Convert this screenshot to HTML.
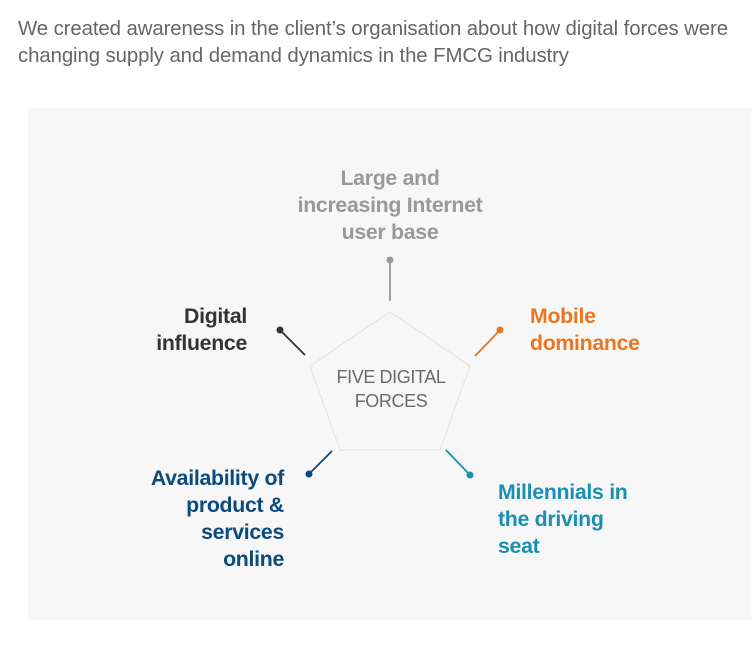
<!DOCTYPE html>
<html><head><style>
body{margin:0;width:751px;height:650px;background:#fff;position:relative;overflow:hidden;font-family:"Liberation Sans",Arial,sans-serif}
.h{position:absolute;left:18px;top:16px;font-size:20.4px;line-height:27px;color:#666;font-weight:300;white-space:nowrap;letter-spacing:-0.1px}
.p{position:absolute;left:28px;top:108px;width:723px;height:512px;background:#f7f7f7}
.t{position:absolute;font-weight:bold;font-size:21.3px;line-height:27px;letter-spacing:-0.3px;white-space:nowrap}
</style></head><body>
<div class="h">We created awareness in the client’s organisation about how digital forces were<br>changing supply and demand dynamics in the FMCG industry</div>
<div class="p"></div>
<svg style="position:absolute;left:0;top:0" width="751" height="650">
<polygon points="390,312 470,366 440,450 340,450 310,366" fill="#f7f7f7" stroke="#e2e2e2" stroke-width="1"/>
<g stroke-width="1.8">
<line x1="390" y1="260" x2="390" y2="301" stroke="#999"/><circle cx="390" cy="260" r="3.5" fill="#999"/>
<line x1="280" y1="330" x2="305" y2="355" stroke="#333"/><circle cx="280" cy="330" r="3.5" fill="#333"/>
<line x1="500" y1="330" x2="475" y2="356" stroke="#e87722"/><circle cx="500" cy="330" r="3.5" fill="#e87722"/>
<line x1="309" y1="474" x2="332" y2="451" stroke="#0b4a7e"/><circle cx="309" cy="474" r="3.5" fill="#0b4a7e"/>
<line x1="470" y1="475" x2="446" y2="450" stroke="#1a8fb4"/><circle cx="470" cy="475" r="3.5" fill="#1a8fb4"/>
</g>
<text x="391" y="383" text-anchor="middle" font-size="18" fill="#6a6a6a" font-family="Liberation Sans,sans-serif" letter-spacing="-0.4">FIVE DIGITAL</text>
<text x="391" y="407" text-anchor="middle" font-size="18" fill="#6a6a6a" font-family="Liberation Sans,sans-serif" letter-spacing="-0.4">FORCES</text>
</svg>
<div class="t" style="left:290px;top:165px;width:200px;text-align:center;color:#999">Large and<br>increasing Internet<br>user base</div>
<div class="t" style="right:504px;top:303px;text-align:right;color:#333">Digital<br>influence</div>
<div class="t" style="left:530px;top:303px;color:#e87722">Mobile<br>dominance</div>
<div class="t" style="right:467px;top:465px;text-align:right;color:#0b4a7e">Availability of<br>product &amp;<br>services<br>online</div>
<div class="t" style="left:498px;top:479px;color:#1a8fb4">Millennials in<br>the driving<br>seat</div>
</body></html>
